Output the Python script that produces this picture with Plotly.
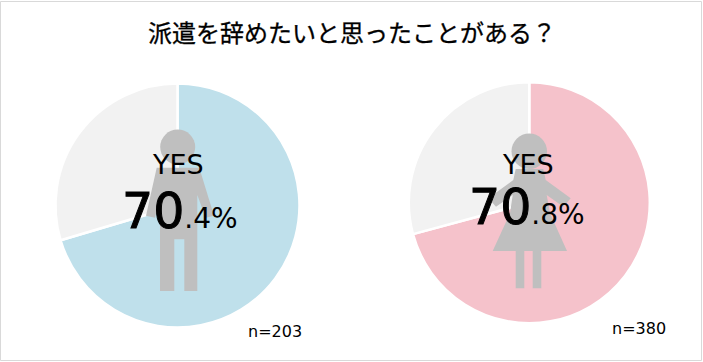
import plotly.graph_objects as go

TITLE = "派遣を辞めたいと思ったことがある？"
LABELS = ["YES", "NO"]
MALE = [70.4, 29.6]
FEMALE = [70.8, 29.2]
W, H = 703, 362
JP = "Noto Sans CJK JP"
LAT = "DejaVu Sans"

def dom(cx, cy, r):
    return dict(x=[(cx - r) / W, (cx + r) / W], y=[1 - (cy + r) / H, 1 - (cy - r) / H])

def pie(vals, col, d):
    return go.Pie(values=vals, labels=LABELS, sort=False, direction="clockwise", rotation=0,
                  marker=dict(colors=[col, "#f2f2f2"], line=dict(color="#ffffff", width=2.5)),
                  textinfo="none", hoverinfo="label+percent", domain=d, showlegend=False)

fig = go.Figure([pie(MALE, "#bfe0eb", dom(177.5, 205.5, 122)),
                 pie(FEMALE, "#f5c2cb", dom(529.3, 202.7, 120.5))])

def Z(pts, ox, oy):
    return [(ox + a / 3, oy + b / 3) for a, b in pts]

def path(pts):
    return "M" + " L".join(f"{x:.1f},{y:.1f}" for x, y in pts) + " Z"

GREY = "#bfbfbf"
male = Z([(350,293),(478,293),(522,437),(497,443),(472,375),(472,663),(433,663),(433,508),(403,508),(403,663),
          (360,663),(360,375),(345,443),(318,437)], 40, 70)
female = Z([(347,297),(430,297),(437,330),(512,385),(490,410),(440,375),(450,430),(501,543),(424,543),(424,655),(398,655),
            (398,543),(373,543),(373,655),(347,655),(347,543),(278,543),(330,430),(338,375),(288,410),(265,385),(340,330)], 400, 70)
shapes = [
    dict(type="path", xref="x", yref="y", path=path(male), fillcolor=GREY, line_width=0),
    dict(type="circle", xref="x", yref="y", x0=160.2, x1=195.2, y0=129.5, y1=164.5, fillcolor=GREY, line_width=0),
    dict(type="path", xref="x", yref="y", path=path(female), fillcolor=GREY, line_width=0),
    dict(type="circle", xref="x", yref="y", x0=511.5, x1=547, y0=133.5, y1=169, fillcolor=GREY, line_width=0),
    dict(type="rect", xref="x", yref="y", x0=0.5, x1=701.5, y0=1.5, y1=360.5, line=dict(color="#d9d9d9", width=1)),
]

def txt(x, y, t, font, size, anchor="center"):
    return dict(x=x, y=y, xref="x", yref="y", text=t, showarrow=False, xanchor=anchor, yanchor="middle",
                font=dict(family=font, size=size, color="#000000"))

def pct(v):
    a, b = f"{v:.1f}".split(".")
    return f"<span style='font-size:49px;stroke:#000;stroke-width:1px'>{a}</span>.{b}%"

annots = [
    txt(352, 31, f"<span style='stroke:#000;stroke-width:0.3px'>{TITLE}</span>", JP, 24),
    txt(177.5, 164, LABELS[0], LAT, 27),
    txt(180, 211, pct(MALE[0]), LAT, 28),
    txt(527.5, 164, LABELS[0], LAT, 27),
    txt(527, 207, pct(FEMALE[0]), LAT, 28),
    txt(275, 331, "n=203", LAT, 16),
    txt(639, 328, "n=380", LAT, 16),
]

fig.update_layout(width=W, height=H, margin=dict(l=0, r=0, t=0, b=0), paper_bgcolor="#ffffff", plot_bgcolor="rgba(0,0,0,0)",
                  xaxis=dict(range=[0, W], visible=False, fixedrange=True),
                  yaxis=dict(range=[H, 0], visible=False, fixedrange=True),
                  shapes=shapes, annotations=annots)
fig.add_trace(go.Scatter(x=[], y=[], showlegend=False))
fig.write_html("out.html", config=dict(displayModeBar=False),
               post_script="document.body.style.margin='0';document.documentElement.style.overflow='hidden';")
